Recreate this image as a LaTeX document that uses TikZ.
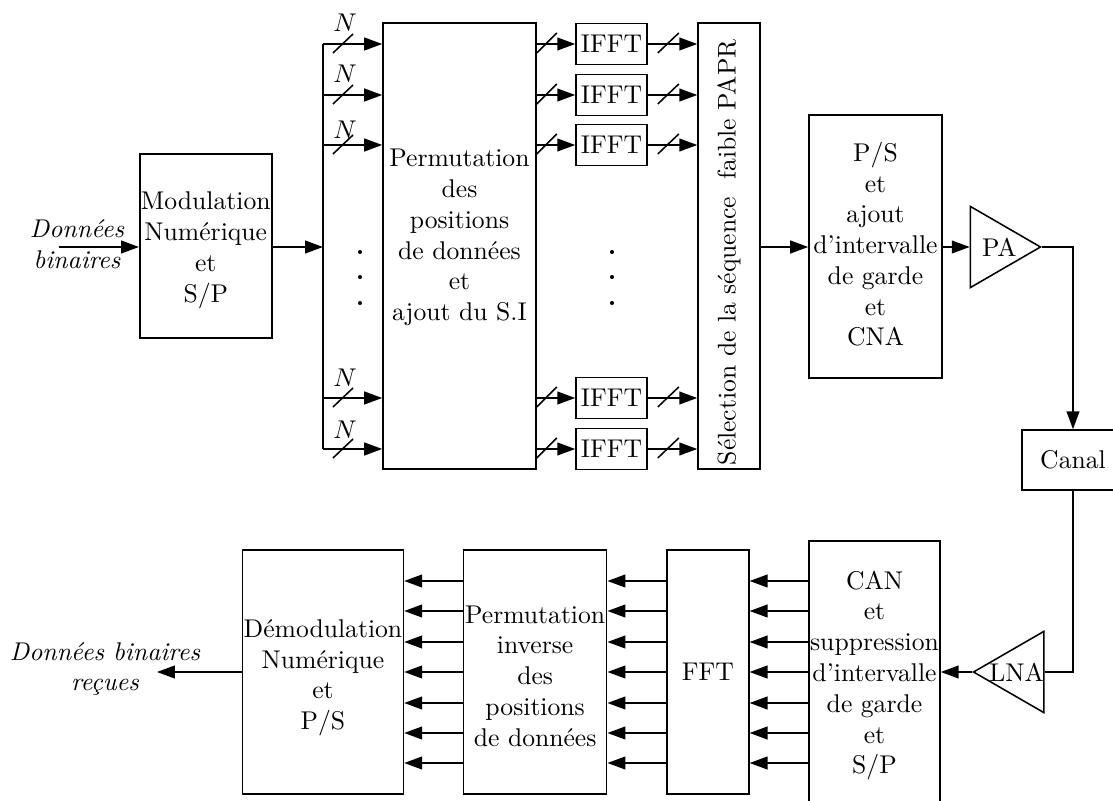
\documentclass[tikz,border=0pt]{standalone}
\usepackage{tikz}
\usetikzlibrary{shapes.geometric,arrows.meta,positioning,calc}

\newcommand{\pushtext}[1]{\rule{0pt}{#1}}

\begin{document}
\begin{tikzpicture}[
  x=0.39pt, y=-0.39pt,
  line width=0.6pt,
  block/.style={rectangle, draw, align=center, inner sep=0pt},
  ifftbox/.style={block, minimum width=27.7pt, minimum height=16pt},
  lowbox/.style={block, minimum height=95pt},
  amp/.style={isosceles triangle, isosceles triangle apex angle=60, draw, inner sep=0pt,
    isosceles triangle stretches, minimum width=31.6pt, minimum height=27.3pt},
  sig/.style={-{Triangle[length=7pt,width=5pt]}},
  slashbar/.style={line width=0.6pt},
  dotmark/.style={circle, fill, inner sep=0pt, minimum size=1.6pt}
]
\useasboundingbox (0,0) rectangle (1113,801);

% Transmit chain, top row
\node[block, minimum width=59.7pt, minimum height=174pt] (perm) at (459.5,246)
  {Permutation\\des\\positions\\de données\\et\\ajout du S.I\\[-3.4pt]\mbox{}};
\node[block, minimum width=51.5pt, minimum height=71.8pt, left=42.75pt of perm] (mod)
  {\pushtext{10.4pt}Modulation\\Numérique\\et\\S/P};
\node[block, rotate=90, minimum width=174pt, minimum height=24.2pt] (sel) at (729,246)
  {Sélection de la séquence~~faible PAPR\hspace*{5pt}};
\node[block, minimum width=51.9pt, minimum height=102.6pt] (ps) at (875.5,246.5)
  {P/S\\et\\ajout\\d'intervalle\\de garde\\et\\CNA\\[-10pt]\mbox{}};
\node[amp, anchor=apex] (pa) at (1042,247) {\hspace*{3pt}PA};
\node[block, minimum width=39.8pt, minimum height=23.4pt] (canal) at (1073,460) {Canal};

% Input label and the bus feeding the permutation block
\node[font=\itshape, align=center] (datain) at (77,244) {Données\\binaires};
\coordinate (start) at (59,247);
\coordinate (busin) at (323,247);
\coordinate (bustop) at (323,44);
\coordinate (busbot) at (323,449);
\draw[sig] (start) -- (start -| mod.west);
\draw[sig] (mod.east |- busin) -- (busin);
\draw (bustop) -- (busbot);

% Five parallel branches
\foreach \n/\y/\gap in {1/44/21,2/95/21,3/145/15,4/398/20,5/449/19}{
  \node[ifftbox] (ifft\n) at (611.5,\y) {IFFT};
  \coordinate (bus\n) at (323,\y);
  \draw[sig] (bus\n) -- (perm.west |- bus\n);
  \draw[sig] (perm.east |- bus\n) -- (ifft\n.west);
  \draw[sig] (ifft\n.east) -- (ifft\n -| sel.north);
  \draw[slashbar] ($(bus\n)+(10,9)$) -- ($(bus\n)+(30,-10)$);
  \draw[slashbar] ($(perm.east |- bus\n)+(0,9)$) -- ($(perm.east |- bus\n)+(20,-11)$);
  \draw[slashbar] ($(ifft\n.east)+(10,9)$) -- ($(ifft\n.east)+(31,-11)$);
  \node (bits\n) at (345,\y-\gap) {$N$};
}

% Dots standing for the hidden branches
\foreach \k/\y in {1/252,2/277,3/303}{
  \node[dotmark] (dotl\k) at (360,\y) {};
  \node[dotmark] (dotr\k) at (612,\y) {};
}

\draw[sig] (sel.south |- busin) -- (ps.west |- busin);
\draw[sig] (ps.east |- pa.apex) -- (pa.lower side);
\draw[sig] (pa.apex) -| (canal.north);

% Receive chain, bottom row
\node[block, minimum width=51.1pt, minimum height=102.2pt] (can) at (874.5,672)
  {\pushtext{9.9pt}CAN\\et\\suppression\\d'intervalle\\de garde\\et\\S/P};
\node[lowbox, minimum width=32pt, left=22.85pt of can] (fft) {FFT};
\node[lowbox, minimum width=55.8pt, left=22.85pt of fft] (perminv)
  {\pushtext{9.9pt}Permutation\\inverse\\des\\positions\\de données};
\node[lowbox, minimum width=62.8pt, left=22.85pt of perminv] (demod)
  {\pushtext{11.5pt}Démodulation\\Numérique\\et\\P/S};
\node[amp, shape border rotate=180, anchor=apex] (lna) at (972,672) {LNA};

\draw (canal.south) |- (lna.lower side);
\draw[sig] (lna.apex) -- (can.east);

\foreach \y in {581,611,642,672,703,733,763}{
  \draw[sig] (can.west |- 0,\y) -- (fft.east |- 0,\y);
  \draw[sig] (fft.west |- 0,\y) -- (perminv.east |- 0,\y);
  \draw[sig] (perminv.west |- 0,\y) -- (demod.east |- 0,\y);
}

% Output label
\coordinate (stop) at (157,672);
\draw[sig] (demod.west |- stop) -- (stop);
\node[font=\itshape, align=center] (dataout) at (105,669) {Données binaires\\reçues};
\end{tikzpicture}
\end{document}
